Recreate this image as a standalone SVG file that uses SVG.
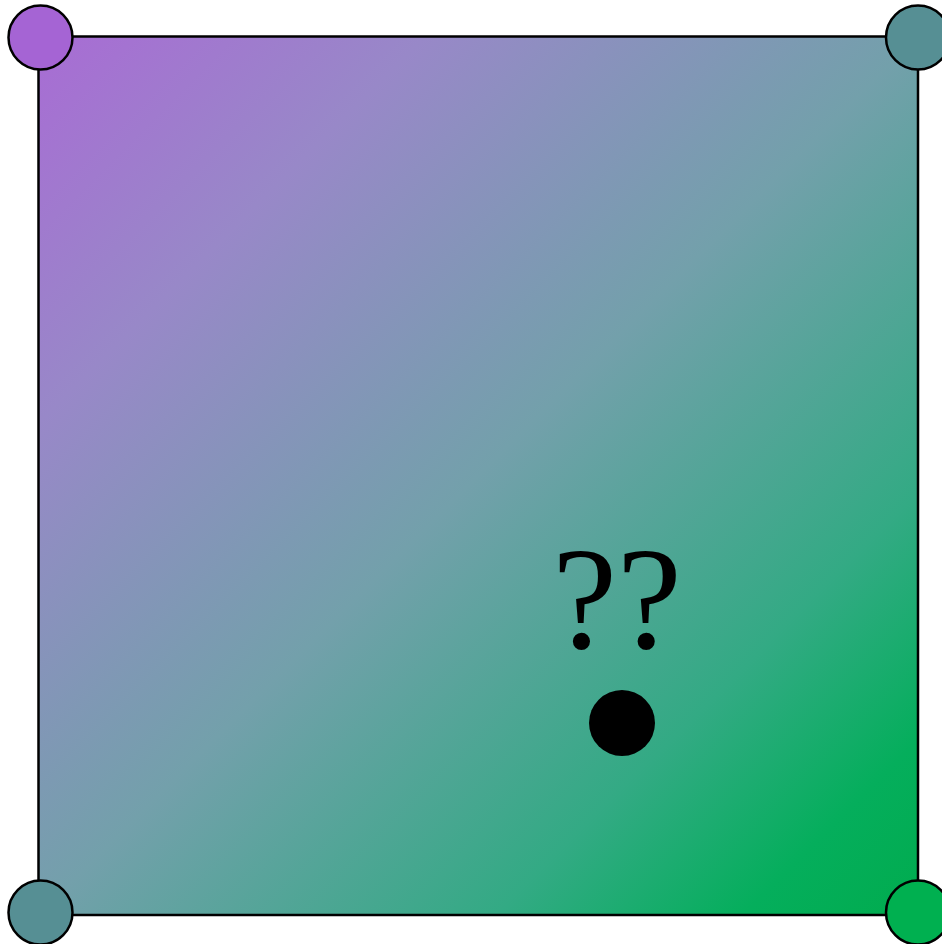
<svg xmlns="http://www.w3.org/2000/svg" width="942" height="944" viewBox="0 0 942 944">
<defs>
<linearGradient id="g" x1="0" y1="0" x2="1" y2="1">
<stop offset="0" stop-color="#a86cd4"/>
<stop offset="0.22" stop-color="#9888c8"/>
<stop offset="0.5" stop-color="#73a0ab"/>
<stop offset="0.76" stop-color="#33aa84"/>
<stop offset="0.9" stop-color="#05ae5c"/>
<stop offset="1" stop-color="#00ac4e"/>
</linearGradient>
<style>
.c{stroke:#000;stroke-width:2.5}
.t{font-family:"Liberation Serif","DejaVu Serif",serif;font-size:146px;fill:#000}
</style>
</defs>
<g id="square">
<rect x="38.5" y="36.5" width="879.5" height="878.5" fill="url(#g)" stroke="#000" stroke-width="2.5"/>
</g>
<g id="label">
<text class="t" x="617" y="648" text-anchor="middle">??</text>
</g>
<g id="dot">
<circle cx="622" cy="723" r="33" fill="#000"/>
</g>
<g id="corner-tl"><circle class="c" cx="40.5" cy="37.5" r="32" fill="#a564d4"/></g>
<g id="corner-tr"><circle class="c" cx="918" cy="37.5" r="32" fill="#568f94"/></g>
<g id="corner-bl"><circle class="c" cx="40.5" cy="912.5" r="32" fill="#568f94"/></g>
<g id="corner-br"><circle class="c" cx="918" cy="912.5" r="32" fill="#00b050"/></g>
<g id="connectors"/>
</svg>
